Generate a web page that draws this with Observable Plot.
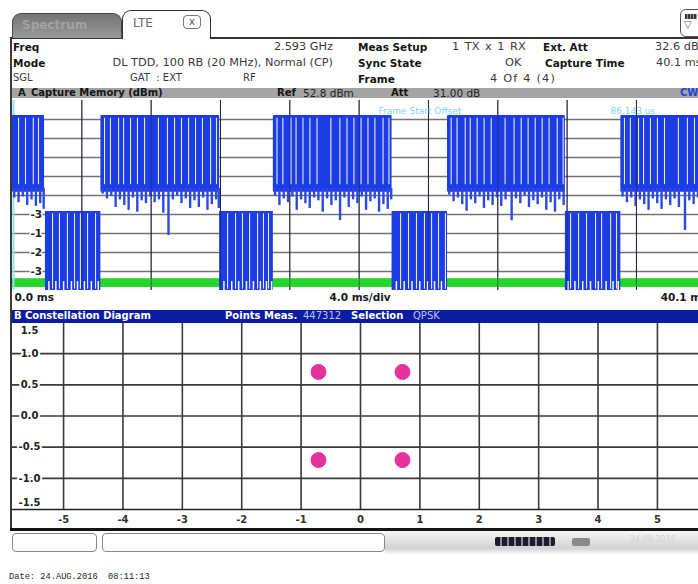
<!DOCTYPE html>
<html><head><meta charset="utf-8">
<script src="https://cdn.jsdelivr.net/npm/d3@7"></script>
<script src="https://cdn.jsdelivr.net/npm/@observablehq/plot@0.6"></script>
<style>
html,body{margin:0;padding:0;background:#fff;width:698px;height:584px;overflow:hidden;font-family:"DejaVu Sans",Verdana,sans-serif;}
#page{position:relative;width:698px;height:584px;overflow:hidden;background:#fff;}
.a{position:absolute;white-space:nowrap;line-height:12px;}
.b{font-weight:bold;color:#151515;font-size:10.5px;}
.n{color:#3a3a3a;font-size:11.3px;}
.w{font-weight:bold;color:#fff;font-size:10px;}
.lw{color:#b9c3ff;font-size:10px;}
#plotA,#plotB{position:absolute;}
#plotA svg,#plotB svg{max-width:none;display:block;}
</style></head><body>
<div id="page">
  <div id="plotA" style="left:12px;top:98px;"></div>
  <div id="plotB" style="left:12px;top:322px;"></div>

  <!-- tabs -->
  <div class="a" style="left:10px;top:37px;width:688px;height:1.5px;background:#333"></div>
  <div class="a" style="left:12px;top:13px;width:110px;height:25px;box-sizing:border-box;background:linear-gradient(#747474,#9a9a9a);border:1.5px solid #474747;border-bottom:none;border-radius:9px 9px 0 0"></div>
  <div class="a" style="left:22px;top:18px;font-size:12px;font-weight:bold;color:#a2a2a2;line-height:14px">Spectrum</div>
  <div class="a" style="left:122px;top:10px;width:89px;height:29px;box-sizing:border-box;background:#fff;border:1.5px solid #333;border-bottom:none;border-radius:9px 9px 0 0"></div>
  <div class="a" style="left:133px;top:16px;font-size:12px;color:#6a6a6a;line-height:14px">LTE</div>
  <div class="a" style="left:183px;top:15px;width:18px;height:14px;box-sizing:border-box;border:1px solid #777;border-radius:4px;font-size:10px;line-height:12px;text-align:center;color:#555">x</div>
  <div class="a" style="left:680px;top:9px;width:24px;height:28px;box-sizing:border-box;border:1.5px solid #555;border-radius:6px;background:#fff"></div>
  <div class="a" style="left:685px;top:14px;width:12px;height:5px;background:repeating-linear-gradient(90deg,#333 0 2px,#999 2px 3px)"></div>
  <div class="a" style="left:684px;top:19px;font-size:10px;color:#555">▽</div>

  <!-- panel borders -->
  <div class="a" style="left:10px;top:37px;width:2px;height:493px;background:#3a3a3a"></div>

  <!-- header info -->
  <div class="a b" style="left:13px;top:41px">Freq</div>
  <div class="a n" style="right:365px;top:41px">2.593 GHz</div>
  <div class="a b" style="left:358px;top:41px">Meas Setup</div>
  <div class="a n" style="left:452px;top:41px;word-spacing:2px">1 TX x 1 RX</div>
  <div class="a b" style="left:543px;top:41px">Ext. Att</div>
  <div class="a n" style="left:655px;top:41px">32.6 dB</div>
  <div class="a b" style="left:13px;top:57px">Mode</div>
  <div class="a n" style="right:365px;top:57px">DL TDD, 100 RB (20 MHz), Normal (CP)</div>
  <div class="a b" style="left:358px;top:57px">Sync State</div>
  <div class="a n" style="left:505px;top:57px">OK</div>
  <div class="a b" style="left:545px;top:57px">Capture Time</div>
  <div class="a n" style="left:656px;top:57px">40.1 ms</div>
  <div class="a n" style="left:13px;top:72px;font-size:10px">SGL</div>
  <div class="a n" style="left:130px;top:72px;font-size:10px">GAT&nbsp;&nbsp;: EXT</div>
  <div class="a n" style="left:243px;top:72px;font-size:10px">RF</div>
  <div class="a b" style="left:358px;top:73px">Frame</div>
  <div class="a n" style="left:490px;top:73px;letter-spacing:1.2px">4 Of 4 (4)</div>

  <!-- bar A -->
  <div class="a" style="left:12px;top:88px;width:686px;height:10px;background:#a4a4a4"></div>
  <div class="a b" style="left:18px;top:87px;font-size:10px">A</div>
  <div class="a b" style="left:31px;top:87px;font-size:10px">Capture Memory (dBm)</div>
  <div class="a b" style="left:277px;top:87px;font-size:10px">Ref</div>
  <div class="a n" style="left:303px;top:87px;color:#222;font-size:10.5px">52.8 dBm</div>
  <div class="a b" style="left:391px;top:87px;font-size:10px">Att</div>
  <div class="a n" style="left:433px;top:87px;color:#222;font-size:10.5px">31.00 dB</div>
  <div class="a b" style="left:680px;top:87px;font-size:10px;color:#2343d4">CW</div>

  <!-- bar B -->
  <div class="a" style="left:12px;top:310px;width:686px;height:13px;background:#0c1ca0"></div>
  <div class="a w" style="left:14px;top:310px">B</div>
  <div class="a w" style="left:25px;top:310px">Constellation Diagram</div>
  <div class="a w" style="left:225px;top:310px">Points Meas.</div>
  <div class="a lw" style="left:303px;top:310px">447312</div>
  <div class="a w" style="left:351px;top:310px">Selection</div>
  <div class="a lw" style="left:413px;top:310px">QPSK</div>

  <!-- bottom border + status bar -->
  <div class="a" style="left:10px;top:528px;width:688px;height:3px;background:#151515"></div>
  <div class="a" style="left:385px;top:531px;width:313px;height:23px;background:linear-gradient(#f6f6f6,#d2d2d2 75%,#fafafa)"></div>
  <div class="a" style="left:12px;top:533px;width:85px;height:19px;box-sizing:border-box;border:1px solid #8a8a8a;border-radius:4px;background:#fff"></div>
  <div class="a" style="left:102px;top:533px;width:283px;height:19px;box-sizing:border-box;border:1px solid #8a8a8a;border-radius:4px;background:#fff"></div>
  <div class="a" style="left:495px;top:537px;width:60px;height:9px;background:repeating-linear-gradient(90deg,#1c1c2a 0 5px,#8a8a9a 5px 7px);border-radius:2px"></div>
  <div class="a" style="left:572px;top:538px;width:18px;height:8px;background:#8a8a8a;border-radius:2px"></div>
  <div class="a" style="left:630px;top:534px;font-size:8px;color:#d4d4d4">24.08.2016</div>

  <div class="a" style="left:9px;top:571px;font-family:'Liberation Mono',monospace;font-size:8.7px;color:#222">Date: 24.AUG.2016&nbsp;&nbsp;08:11:13</div>
</div>
<script>
// ---------- Panel A: capture memory ----------
const refLevel = 52.8;            // dBm (top of grid)
const dbPerDiv = 10;
const captureTime = 40.1;         // ms
const timeGridMs = [4, 8, 12, 16, 20, 24, 28, 32, 36];
const levelGridDbm = [42.8, 32.8, 22.8, 12.8, 2.8, -7.2, -17.2, -27.2, -37.2];
const levelLabelDbm = [-7.2, -17.2, -27.2, -37.2];
const levelLabelText = ["-3", "-1", "-2", "-3"];
const timeAxisText = ["0.0 ms", "4.0 ms/div", "40.1 ms"];

const highStartMs = [0.0, 5.1, 15.05, 25.1, 35.1];
const highEndMs   = [1.85, 11.95, 21.9, 31.9, 40.1];
const highTopDbm = 44.9;
const highBodyDbm = 4.5;
const lowStartMs = [1.9, 11.95, 21.9, 31.9];
const lowEndMs   = [5.1, 15.05, 25.1, 35.1];
const lowTopDbm = -5.6;
const floorBandDbm = [-45.6, -41.0];

const highDips = [
  [0.1,1.5],[0.35,-1.0],[0.6,2.0],[0.85,-2.5],[1.1,0.5],[1.35,-3.0],[1.6,-1.5],[1.8,-4.5],
  [5.2,3.5],[5.45,1.0],[5.7,2.5],[5.95,-3.5],[6.2,0.5],[6.45,-2.5],[6.7,-5.0],[6.95,1.5],[7.2,-6.0],[7.45,0.0],
  [7.7,-1.5],[7.95,2.0],[8.2,-1.0],[8.45,0.5],[8.7,-6.5],[9.0,-18.3],[9.25,0.5],[9.5,2.5],[9.75,-1.5],[10.0,1.0],
  [10.25,-4.0],[10.5,0.0],[10.75,-3.5],[11.0,1.5],[11.25,-5.0],[11.5,-2.0],[11.75,0.5],[11.9,-4.0],
  [15.15,2.5],[15.4,-2.5],[15.65,1.0],[15.9,-1.0],[16.15,2.0],[16.4,-5.0],[16.65,0.5],[16.9,-1.5],[17.15,-4.0],
  [17.4,1.5],[17.65,0.0],[17.9,-6.0],[18.15,1.0],[18.4,-2.5],[18.65,0.0],[18.9,-10.4],[19.15,1.5],[19.4,-3.5],
  [19.65,0.5],[19.9,-1.5],[20.15,2.0],[20.4,-5.0],[20.65,-0.5],[20.9,1.0],[21.15,-6.0],[21.4,-2.0],[21.65,-4.5],[21.85,0.5],
  [25.2,3.0],[25.45,-0.5],[25.7,1.5],[25.95,-2.0],[26.2,-5.5],[26.45,0.5],[26.7,-1.5],[26.95,2.0],[27.2,-4.0],
  [27.45,0.0],[27.7,-2.5],[27.95,1.5],[28.2,-3.0],[28.45,0.5],[28.8,-10.5],[29.05,1.0],[29.3,-1.5],[29.55,2.5],
  [29.8,-3.5],[30.05,0.0],[30.3,-2.0],[30.55,1.5],[30.8,-5.0],[31.05,-1.0],[31.3,-6.0],[31.55,0.5],[31.8,-2.5],
  [35.2,2.0],[35.45,-1.0],[35.7,1.5],[35.95,-3.0],[36.2,0.5],[36.45,-2.0],[36.7,-5.0],[36.95,1.0],[37.2,-1.5],
  [37.45,-4.5],[37.7,0.5],[37.95,-2.5],[38.2,1.0],[38.45,-3.5],[38.8,-15.6],[39.05,0.0],[39.3,-2.0],[39.55,1.5],[39.8,-1.0]
];
const highGapsMs = [
  0.35, 0.75, 1.2, 1.5,
  5.31, 5.65, 6.12, 6.41, 6.81, 7.21, 7.62, 8.42, 8.94, 9.35, 9.75, 10.16, 10.56, 10.96, 11.43, 11.77,
  15.26, 15.6, 16.07, 16.36, 16.76, 17.16, 17.57, 18.37, 18.89, 19.3, 19.7, 20.11, 20.51, 20.91, 21.38, 21.72,
  25.31, 25.65, 26.12, 26.41, 26.81, 27.21, 27.62, 28.42, 28.94, 29.35, 29.75, 30.16, 30.56, 30.96, 31.43, 31.77,
  35.31, 35.65, 36.12, 36.41, 36.81, 37.21, 37.62, 38.42, 38.94, 39.35, 39.75
];
const lowGapsMs = [
  2.31, 2.71, 3.17, 3.58, 3.92, 4.33, 4.79,
  12.41, 12.87, 13.27, 13.68, 14.14, 14.48, 14.77,
  22.39, 22.85, 23.31, 23.77, 24.18, 24.58, 24.98,
  32.2, 32.66, 33.12, 33.64, 33.99, 34.51, 34.85
];
const lowNotchMs = [2.1, 2.5, 2.95, 3.4, 3.75, 4.15, 4.55, 4.95,
  12.2, 12.65, 13.05, 13.5, 13.9, 14.3, 14.65, 14.95,
  22.15, 22.6, 23.05, 23.5, 23.95, 24.35, 24.75,
  32.05, 32.45, 32.9, 33.35, 33.8, 34.25, 34.65, 34.95];
const annotations = [{t: 21.12, text: "Frame Start Offset"}, {t: 34.5, text: "86.143 us"}];

const blue = "#1c3ce4";

const plotA = Plot.plot({
  width: 695, height: 212,
  marginTop: 2, marginBottom: 20, marginLeft: 0, marginRight: 0,
  x: {domain: [0, captureTime], axis: null},
  y: {domain: [refLevel - 10 * dbPerDiv, refLevel], axis: null},
  style: {background: "transparent", fontFamily: "DejaVu Sans", fontSize: "10px"},
  marks: [
    Plot.ruleY(levelGridDbm, {stroke: "#737373", strokeWidth: 1.6}),
    Plot.ruleX(timeGridMs, {stroke: "#222", strokeWidth: 1}),
    Plot.text(levelLabelDbm, {y: d => d, text: (d, i) => levelLabelText[i], frameAnchor: "left", dx: 18,
      textAnchor: "start", fill: "#222", fontWeight: "bold", fontSize: 10.5, stroke: "white", strokeWidth: 3}),
    Plot.rect([floorBandDbm], {x1: 0, x2: captureTime, y1: d => d[0], y2: d => d[1], fill: "#27d62a"}),
    Plot.ruleX([0], {stroke: "#8fe3ea", strokeWidth: 2, dx: 1}),
    Plot.rect(highStartMs, {x1: d => d, x2: (d, i) => highEndMs[i], y1: highBodyDbm, y2: highTopDbm, fill: blue, rx: 1}),
    Plot.ruleX(highDips, {x: d => d[0], y1: highBodyDbm + 2, y2: d => d[1], stroke: "#2d4ae0", strokeWidth: 2.4}),
    Plot.rect(lowStartMs, {x1: d => d, x2: (d, i) => lowEndMs[i], y1: refLevel - 10 * dbPerDiv, y2: lowTopDbm, fill: blue}),
    Plot.ruleX(highGapsMs, {y1: highBodyDbm + 4, y2: highTopDbm - 1.5, stroke: "#e4e9ff", strokeWidth: 1.1}),
    Plot.ruleX(lowGapsMs, {y1: -46.5, y2: lowTopDbm - 1.2, stroke: "#e4e9ff", strokeWidth: 1.1}),
    Plot.ruleX(lowNotchMs, {y1: -47.2, y2: -42.5, stroke: "#f2f4ff", strokeWidth: 1.5}),
    Plot.ruleX(timeGridMs, {stroke: "#202050", strokeWidth: 1, strokeOpacity: 0.55}),
    Plot.text(annotations, {x: "t", text: "text", frameAnchor: "top", dy: 7, textAnchor: "start",
      fill: "#7fd6e6", fontSize: 9}),
    Plot.text([timeAxisText[0]], {x: 0, frameAnchor: "bottom", dy: 10, dx: 2, textAnchor: "start",
      fontWeight: "bold", fill: "#1a1a1a", fontSize: 10.5}),
    Plot.text([timeAxisText[1]], {x: captureTime / 2, frameAnchor: "bottom", dy: 10, textAnchor: "middle",
      fontWeight: "bold", fill: "#1a1a1a", fontSize: 10.5}),
    Plot.text([timeAxisText[2]], {x: captureTime, frameAnchor: "bottom", dy: 10, textAnchor: "end",
      fontWeight: "bold", fill: "#1a1a1a", fontSize: 10.5})
  ]
});
document.getElementById("plotA").append(plotA);

// ---------- Panel B: constellation ----------
const iTicks = [-5, -4, -3, -2, -1, 0, 1, 2, 3, 4, 5];
const qGrid = [1.0, 0.5, 0.0, -0.5, -1.0];
const qTop = [1.5];
const qBottom = [-1.5];
const qpskI = [-0.707, 0.707, -0.707, 0.707];
const qpskQ = [0.707, 0.707, -0.707, -0.707];

const labelStyle = {frameAnchor: "left", dx: 17, textAnchor: "middle", fontWeight: "bold", fill: "#222", fontSize: 10};

const plotB = Plot.plot({
  width: 696, height: 209,
  marginTop: 0, marginBottom: 22, marginLeft: 0, marginRight: 0,
  x: {domain: [-5.86, 5.86], axis: null},
  y: {domain: [-1.5, 1.5], axis: null},
  style: {background: "transparent", fontFamily: "DejaVu Sans", fontSize: "10px"},
  marks: [
    Plot.ruleY(qGrid, {stroke: "#3a3a3a", strokeWidth: 1.6}),
    Plot.ruleX(iTicks, {y1: -1.5, y2: 1.5, stroke: "#3a3a3a", strokeWidth: 1.6}),
    Plot.ruleY([-1.5], {stroke: "#222", strokeWidth: 1.5}),
    Plot.text(qGrid, {y: d => d, text: d => d.toFixed(1), ...labelStyle, stroke: "white", strokeWidth: 4}),
    Plot.text(qTop, {y: d => d, text: d => d.toFixed(1), ...labelStyle, dy: 8}),
    Plot.text(qBottom, {y: d => d, text: d => d.toFixed(1), ...labelStyle, dy: -7}),
    Plot.text(iTicks, {x: d => d, y: -1.5, dy: 10, text: d => String(d), fill: "#333", fontWeight: "bold", fontSize: 10}),
    Plot.dot(qpskI, {x: d => d, y: (d, i) => qpskQ[i], r: 7.5, fill: "#e5319b", stroke: "#e5319b", strokeWidth: 1})
  ]
});
document.getElementById("plotB").append(plotB);
</script>
</body></html>
